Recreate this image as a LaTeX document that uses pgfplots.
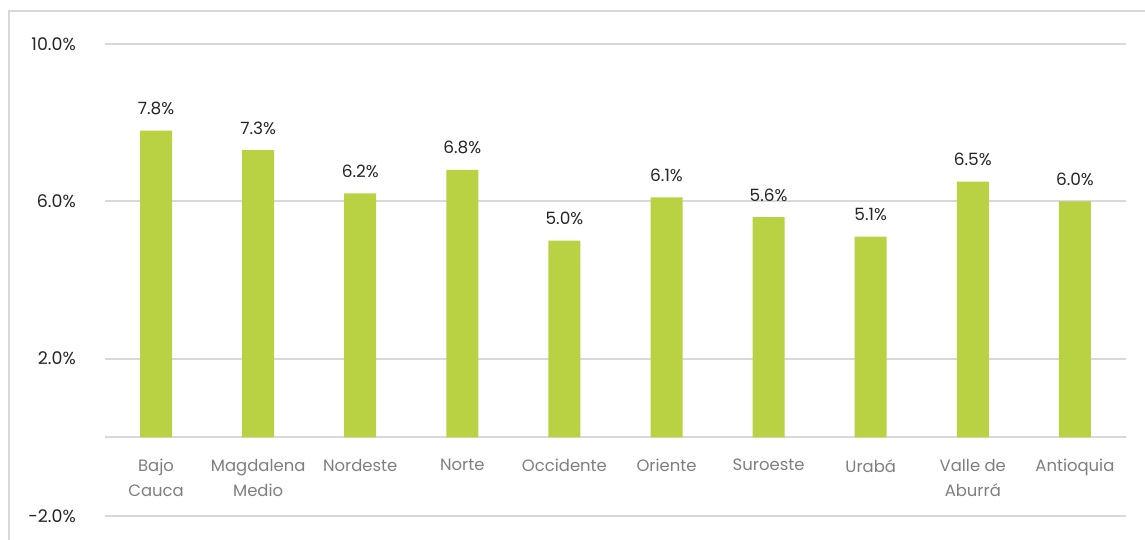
\documentclass[border=0pt]{standalone}
\usepackage{fontspec}
\setmainfont{Poppins}
\usepackage{pgfplots}
\pgfplotsset{compat=1.18}
\definecolor{barg}{HTML}{B9D243}
\definecolor{gridc}{HTML}{D9D9D9}
\definecolor{txt}{HTML}{262626}
\definecolor{cat}{HTML}{7F7F7F}
\begin{document}
\begin{tikzpicture}[x=1bp,y=1bp]
\clip (0,0) rectangle (1145,540);
\fill[white] (0,0) rectangle (1145,540);
\draw[gridc, line width=2bp] (9,-20) rectangle (1170,529);
\begin{axis}[
  at={(105bp,24bp)}, anchor=south west,
  width=1021bp, height=472bp, scale only axis,
  xmin=-0.5, xmax=9.5, ymin=-2, ymax=10,
  axis line style={draw=none},
  /pgf/number format/assume math mode=true,
  ybar, bar width=32bp,
  xtick=data,
  xticklabels={{Bajo\\Cauca},{Magdalena\\Medio},Nordeste,Norte,Occidente,Oriente,Suroeste,Urabá,{Valle de\\Aburrá},Antioquia},
  xticklabel style={align=center, text=cat, font=\fontsize{16.5}{25}\selectfont, anchor=north, inner sep=0pt, yshift=57bp},
  ytick={-2,2,6,10},
  yticklabels={-2.0\%,2.0\%,6.0\%,10.0\%},
  yticklabel style={text=txt, font=\fontsize{17.5}{19}\selectfont, anchor=east, inner sep=0pt, xshift=-29bp},
  major tick length=0pt,
  clip=false,
  nodes near coords={\pgfmathprintnumber[fixed,fixed zerofill,precision=1,assume math mode=true]{\pgfplotspointmeta}\%},
  nodes near coords style={text=txt, font=\fontsize{17}{19}\selectfont, anchor=south, yshift=12bp},
]
\foreach \yy in {-2,0,2,6,10} {
  \edef\tmp{\noexpand\draw[gridc, line width=2bp] (axis cs:-0.5,\yy) -- (axis cs:9.5,\yy);}
  \tmp
}
\addplot[fill=barg, draw=none] coordinates {(0,7.8) (1,7.3) (2,6.2) (3,6.8) (4,5.0) (5,6.1) (6,5.6) (7,5.1) (8,6.5) (9,6.0)};
\end{axis}
\end{tikzpicture}
\end{document}
